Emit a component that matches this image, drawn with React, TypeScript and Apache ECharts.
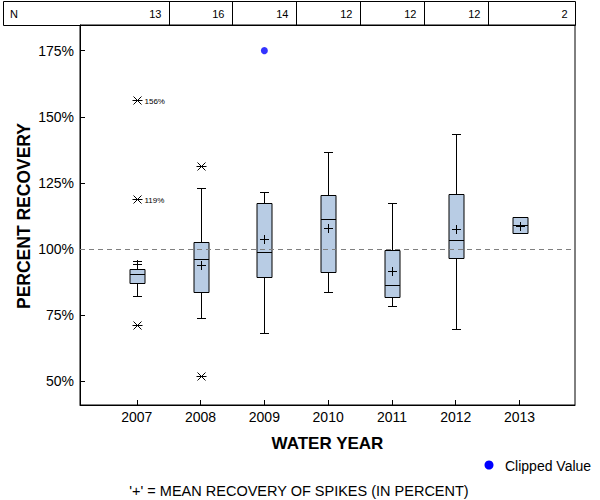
import React, { useEffect, useRef } from "react";
import * as echarts from "echarts";

const years = [2007, 2008, 2009, 2010, 2011, 2012, 2013];
const nCounts = [13, 16, 14, 12, 12, 12, 2];
const q1 = [87.2, 83.8, 89.4, 91.3, 81.9, 96.6, 106.0];
const medians = [90.6, 96.2, 99.0, 111.3, 86.4, 103.4, 108.9];
const q3 = [92.5, 102.6, 117.3, 120.4, 99.6, 120.7, 112.1];
const whiskerLow: (number | null)[] = [82.4, 74.0, 68.3, 83.8, 78.5, 69.8, null];
const whiskerHigh: (number | null)[] = [95.6, 122.9, 121.5, 136.8, 117.2, 143.6, null];
const means = [94.2, 94.0, 103.6, 107.8, 91.7, 107.4, 108.7];
const outlierYears = [2007, 2007, 2007, 2008, 2008];
const outlierValues = [156.4, 118.8, 71.3, 131.5, 52.0];
const outlierLabels = ["156%", "119%", "", "", ""];
const clippedYears = [2009];
const clippedValues = [175];
const yTicks = [50, 75, 100, 125, 150, 175];

const FONT = 'Arial, "Liberation Sans", Helvetica, sans-serif';
const p = (v: number) => Math.round(v) + 0.5;

export default function App() {
  const ref = useRef<HTMLDivElement>(null);
  useEffect(() => {
    if (!ref.current) return;
    const chart = echarts.init(ref.current, null, { renderer: "svg" });
    const boxData = years.map((y, i) => [
      y,
      q1[i],
      medians[i],
      q3[i],
      whiskerLow[i] == null ? NaN : (whiskerLow[i] as number),
      whiskerHigh[i] == null ? NaN : (whiskerHigh[i] as number),
      means[i],
    ]);
    const outData = outlierYears.map((y, i) => [y, outlierValues[i], i]);
    const clipData = clippedYears.map((y, i) => [y, clippedValues[i]]);

    const line = (x1: number, y1: number, x2: number, y2: number) => ({
      type: "line",
      shape: { x1, y1, x2, y2 },
      style: { stroke: "#000", lineWidth: 1 },
    });

    chart.setOption({
      animation: false,
      grid: {
        left: 80,
        top: 25,
        right: 25,
        bottom: 95,
        show: true,
        borderColor: "#000",
        borderWidth: 1,
        backgroundColor: "transparent",
      },
      xAxis: {
        type: "value",
        min: 2006.11,
        max: 2013.87,
        splitLine: { show: false },
        axisLine: { show: true, lineStyle: { color: "#000", width: 1 } },
        axisTick: {
          show: true,
          inside: true,
          length: 5,
          customValues: years,
          lineStyle: { color: "#000" },
        },
        axisLabel: {
          customValues: years,
          formatter: (v: number) => String(Math.round(v)),
          color: "#000",
          fontFamily: FONT,
          fontSize: 14,
          margin: 5,
        },
      },
      yAxis: {
        type: "value",
        min: 41,
        max: 184.7,
        splitLine: { show: false },
        axisLine: { show: true, lineStyle: { color: "#000", width: 1 } },
        axisTick: {
          show: true,
          inside: true,
          length: 5,
          customValues: yTicks,
          lineStyle: { color: "#000" },
        },
        axisLabel: {
          customValues: yTicks,
          formatter: (v: number) => Math.round(v) + "%",
          color: "#000",
          fontFamily: FONT,
          fontSize: 14,
          margin: 6,
        },
      },
      series: [
        {
          type: "scatter",
          z: 2,
          data: clipData,
          symbol: "circle",
          symbolSize: 7,
          itemStyle: { color: "#0000ff" },
          markLine: {
            silent: true,
            symbol: "none",
            label: { show: false },
            lineStyle: { color: "#808080", type: [5, 4], width: 1 },
            data: [{ yAxis: 100 }],
          },
        },
        {
          type: "custom",
          z: 3,
          data: boxData,
          renderItem: (params: any, api: any) => {
            const x = api.value(0);
            const cx = p(api.coord([x, api.value(1)])[0]);
            const yQ1 = p(api.coord([x, api.value(1)])[1]);
            const yMed = p(api.coord([x, api.value(2)])[1]);
            const yQ3 = p(api.coord([x, api.value(3)])[1]);
            const lo = api.value(4);
            const hi = api.value(5);
            const yMean = p(api.coord([x, api.value(6)])[1]);
            const hw = 7.5;
            const cap = 4.5;
            const children: any[] = [];
            if (!isNaN(lo)) {
              const yLo = p(api.coord([x, lo])[1]);
              children.push(line(cx, yQ1, cx, yLo));
              children.push(line(cx - cap, yLo, cx + cap, yLo));
            }
            if (!isNaN(hi)) {
              const yHi = p(api.coord([x, hi])[1]);
              children.push(line(cx, yQ3, cx, yHi));
              children.push(line(cx - cap, yHi, cx + cap, yHi));
            }
            children.push({
              type: "rect",
              shape: { x: cx - hw, y: yQ3, width: hw * 2, height: yQ1 - yQ3 },
              style: { fill: "#b8cce4", stroke: "#000", lineWidth: 1 },
            });
            children.push(line(cx - hw, yMed, cx + hw, yMed));
            children.push(line(cx - 4.5, yMean, cx + 4.5, yMean));
            children.push(line(cx, yMean - 4.5, cx, yMean + 4.5));
            return { type: "group", children };
          },
        },
        {
          type: "custom",
          z: 3,
          data: outData,
          renderItem: (params: any, api: any) => {
            const pt = api.coord([api.value(0), api.value(1)]);
            const cx = Math.round(pt[0]) + 0.5;
            const cy = Math.round(pt[1]) + 0.5;
            const idx = api.value(2);
            const children: any[] = [
              line(cx - 5, cy, cx + 5, cy),
              line(cx - 4, cy - 4, cx + 4, cy + 4),
              line(cx - 4, cy + 4, cx + 4, cy - 4),
            ];
            const lbl = outlierLabels[idx];
            if (lbl) {
              children.push({
                type: "text",
                x: cx + 7,
                y: cy + 0.5,
                style: {
                  text: lbl,
                  fill: "#000",
                  fontFamily: FONT,
                  fontSize: 8,
                  align: "left",
                  verticalAlign: "middle",
                  textAlign: "left",
                  textVerticalAlign: "middle",
                },
              });
            }
            return { type: "group", children };
          },
        },
      ],
    });

    // N table along the top, aligned to the axis
    const toX = (v: number) => chart.convertToPixel({ xAxisIndex: 0 }, v) as number;
    const left = 3.5;
    const right = Math.round(toX(2013.87)) + 0.5;
    const top = 1.5;
    const bottom = 25.5;
    const seps = years.slice(0, -1).map((y) => Math.round(toX(y + 0.5)) + 0.5);
    const cellRights = [...seps, right];
    const graphic: any[] = [
      {
        type: "rect",
        shape: { x: left, y: top, width: right - left, height: bottom - top },
        style: { fill: "none", stroke: "#000", lineWidth: 1 },
      },
      ...seps.map((sx) => ({
        type: "line",
        shape: { x1: sx, y1: top, x2: sx, y2: bottom },
        style: { stroke: "#000", lineWidth: 1 },
      })),
      {
        type: "text",
        x: 10,
        y: 14,
        style: {
          text: "N",
          fill: "#000",
          fontFamily: FONT,
          fontSize: 11,
          align: "left",
          verticalAlign: "middle",
          textAlign: "left",
          textVerticalAlign: "middle",
        },
      },
      ...nCounts.map((n, i) => ({
        type: "text",
        x: cellRights[i] - 8,
        y: 14,
        style: {
          text: String(n),
          fill: "#000",
          fontFamily: FONT,
          fontSize: 11,
          align: "right",
          verticalAlign: "middle",
          textAlign: "right",
          textVerticalAlign: "middle",
        },
      })),
      {
        type: "text",
        x: (toX(2006.11) + toX(2013.87)) / 2,
        y: 443,
        style: {
          text: "WATER YEAR",
          fill: "#000",
          fontFamily: FONT,
          fontSize: 17,
          fontWeight: "bold",
          align: "center",
          verticalAlign: "middle",
          textAlign: "center",
          textVerticalAlign: "middle",
        },
      },
      {
        type: "text",
        x: 24,
        y: 216,
        rotation: Math.PI / 2,
        style: {
          text: "PERCENT RECOVERY",
          fill: "#000",
          fontFamily: FONT,
          fontSize: 17.5,
          fontWeight: "bold",
          align: "center",
          verticalAlign: "middle",
          textAlign: "center",
          textVerticalAlign: "middle",
        },
      },
      {
        type: "circle",
        shape: { cx: 489, cy: 465, r: 4.5 },
        style: { fill: "#0000ff" },
      },
      {
        type: "text",
        x: 505,
        y: 466,
        style: {
          text: "Clipped Value",
          fill: "#000",
          fontFamily: FONT,
          fontSize: 14,
          align: "left",
          verticalAlign: "middle",
          textAlign: "left",
          textVerticalAlign: "middle",
        },
      },
      {
        type: "text",
        x: 299,
        y: 491,
        style: {
          text: "'+' = MEAN RECOVERY OF SPIKES (IN PERCENT)",
          fill: "#000",
          fontFamily: FONT,
          fontSize: 14.5,
          align: "center",
          verticalAlign: "middle",
          textAlign: "center",
          textVerticalAlign: "middle",
        },
      },
    ];
    chart.setOption({ graphic });

    return () => chart.dispose();
  }, []);
  return (
    <div
      ref={ref}
      style={{ position: "fixed", left: 0, top: 0, width: 600, height: 500, background: "#fff" }}
    />
  );
}
